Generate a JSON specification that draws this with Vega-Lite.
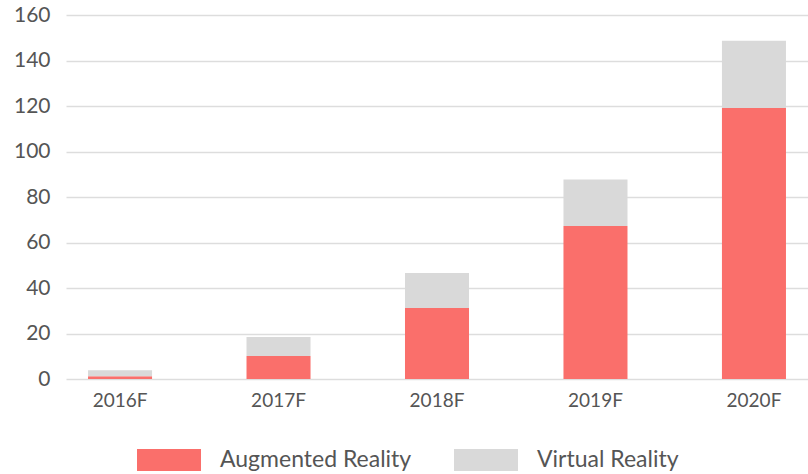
{
  "$schema": "https://vega.github.io/schema/vega-lite/v6.json",
  "width": 742,
  "height": 364,
  "autosize": {"type": "none"},
  "padding": {"left": 66, "top": 15, "right": 0, "bottom": 95},
  "background": "white",
  "config": {
    "font": "Lato",
    "view": {"stroke": null}
  },
  "data": {
    "values": [
      {"year": "2016F", "type": "Augmented Reality", "value": 1.2},
      {"year": "2016F", "type": "Virtual Reality", "value": 2.6},
      {"year": "2017F", "type": "Augmented Reality", "value": 10.1},
      {"year": "2017F", "type": "Virtual Reality", "value": 8.4},
      {"year": "2018F", "type": "Augmented Reality", "value": 31.2},
      {"year": "2018F", "type": "Virtual Reality", "value": 15.4},
      {"year": "2019F", "type": "Augmented Reality", "value": 67.3},
      {"year": "2019F", "type": "Virtual Reality", "value": 20.4},
      {"year": "2020F", "type": "Augmented Reality", "value": 119.1},
      {"year": "2020F", "type": "Virtual Reality", "value": 29.6}
    ]
  },
  "mark": {"type": "bar"},
  "encoding": {
    "x": {
      "field": "year",
      "type": "nominal",
      "scale": {"paddingInner": 0.596, "paddingOuter": 0.139},
      "axis": {
        "title": null,
        "labelAngle": 0,
        "labelFontSize": 19,
        "labelColor": "#555555",
        "labelPadding": 12,
        "ticks": false,
        "domain": false
      }
    },
    "y": {
      "field": "value",
      "type": "quantitative",
      "stack": "zero",
      "scale": {"domain": [0, 160]},
      "axis": {
        "title": null,
        "values": [0, 20, 40, 60, 80, 100, 120, 140, 160],
        "labelFontSize": 21,
        "labelColor": "#555555",
        "labelPadding": 16,
        "ticks": false,
        "domain": false,
        "gridColor": "#DDDDDD",
        "gridWidth": 1.5
      }
    },
    "color": {
      "field": "type",
      "type": "nominal",
      "scale": {"domain": ["Augmented Reality", "Virtual Reality"], "range": ["#FA6F6B", "#D9D9D9"]},
      "legend": {
        "title": null,
        "orient": "none",
        "legendX": 71,
        "legendY": 413,
        "padding": 0,
        "direction": "horizontal",
        "symbolType": "M-1,-0.344H1V0.344H-1Z",
        "symbolSize": 4096,
        "symbolStrokeWidth": 0,
        "symbolOpacity": 1,
        "labelFontSize": 23,
        "labelLimit": 400,
        "labelColor": "#555555",
        "labelOffset": 19,
        "columnPadding": 42
      }
    },
    "order": {"field": "type", "sort": "ascending"}
  }
}
